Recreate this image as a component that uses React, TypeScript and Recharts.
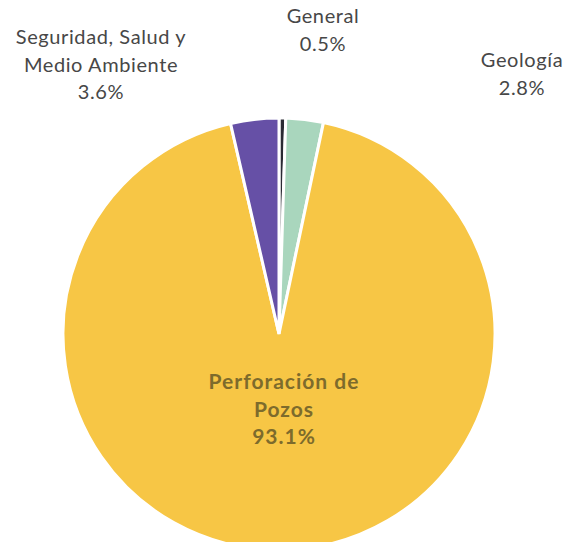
import React from "react";
import { PieChart, Pie, Cell } from "recharts";

const categories = ["General", "Geología", "Perforación de Pozos", "Seguridad, Salud y Medio Ambiente"];
const values = [0.5, 2.8, 93.1, 3.6];
const labelLines = [["General"], ["Geología"], ["Perforación de", "Pozos"], ["Seguridad, Salud y", "Medio Ambiente"]];
const colors = ["#2a2a33", "#a9d6bd", "#f7c645", "#6650a6"];
const labelColors = ["#474747", "#474747", "#7d6b2c", "#474747"];
const labelWeights = ["normal", "normal", "bold", "normal"];
// label anchor offsets relative to pie center (layout only)
const labelOffsets = [
  { dx: 44, dy: -311 },
  { dx: 243, dy: -267 },
  { dx: 5, dy: 55 },
  { dx: -178, dy: -290 },
];

const data = categories.map((name, i) => ({ name, value: values[i] }));

const renderLabel = (props: any) => {
  const { cx, cy, index, value } = props;
  const off = labelOffsets[index];
  const lines = [...labelLines[index], `${value.toFixed(1)}%`];
  const x = cx + off.dx;
  const y0 = cy + off.dy;
  const bold = labelWeights[index] === "bold";
  return (
    <text
      x={x}
      y={y0}
      textAnchor="middle"
      fill={labelColors[index]}
      fontFamily="Lato, 'Open Sans', sans-serif"
      fontSize={bold ? 21 : 20}
      letterSpacing={bold ? 1 : 0.6}
      fontWeight={labelWeights[index] as any}
    >
      {lines.map((l, i) => (
        <tspan key={i} x={x} dy={i === 0 ? 0 : 27.5}>
          {l}
        </tspan>
      ))}
    </text>
  );
};

export default function App() {
  return (
    <div style={{ margin: -8, width: 572, height: 550, background: "#fff" }}>
      <PieChart width={572} height={550}>
        <Pie
          data={data}
          dataKey="value"
          nameKey="name"
          cx={274}
          cy={329}
          outerRadius={216}
          startAngle={90}
          endAngle={-270}
          stroke="#ffffff"
          strokeWidth={3}
          label={renderLabel}
          labelLine={false}
          isAnimationActive={false}
        >
          {data.map((d, i) => (
            <Cell key={d.name} fill={colors[i]} />
          ))}
        </Pie>
      </PieChart>
    </div>
  );
}
